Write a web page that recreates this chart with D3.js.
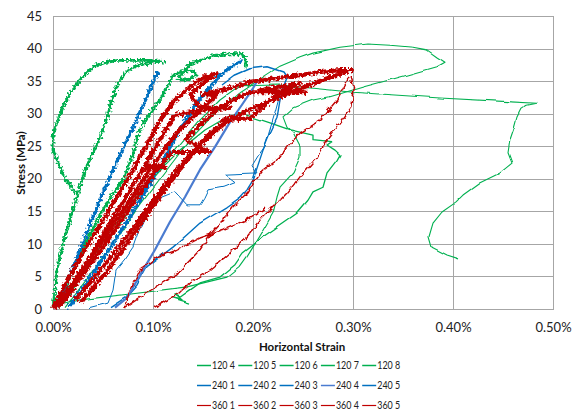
<!DOCTYPE html>
<html>
<head>
<meta charset="utf-8">
<script src="https://cdn.jsdelivr.net/npm/d3@7"></script>
<style>
body { margin: 0; background: #fff; }
svg { display: block; font-family: Lato, "Open Sans", sans-serif; }
</style>
</head>
<body>
<svg id="chart" width="576" height="411"></svg>
<script>
// axis ticks
const xTicks = [0, 0.1, 0.2, 0.3, 0.4, 0.5]          // horizontal strain, %
const yTicks = [0, 5, 10, 15, 20, 25, 30, 35, 40, 45] // stress, MPa

const names = ["120 4", "120 5", "120 6", "120 7", "120 8",
               "240 1", "240 2", "240 3", "240 4", "240 5",
               "360 1", "360 2", "360 3", "360 4", "360 5"]

// [strain %, stress MPa]
const s120_4 = [[0.000,0.2],[0.002,2.9],[0.004,6.0],[0.010,10.1],[0.017,13.7],[0.024,17.2],[0.031,20.9],[0.039,23.7],[0.047,26.3],[0.053,29.0],[0.058,31.6],[0.064,34.4],[0.074,36.6],[0.087,37.5],[0.107,38.1],[0.111,37.9],
  [0.097,38.2],[0.080,38.2],[0.064,38.2],[0.050,37.8],[0.040,37.2],[0.027,35.2],[0.017,33.2],[0.010,31.0],[0.004,28.7],[0.000,26.7],[0.000,24.4],[0.005,22.6],[0.012,20.1],[0.019,18.6],[0.025,17.5]]
const s120_5 = [[0.005,0.2],[0.012,2.9],[0.022,6.8],[0.034,10.6],[0.047,14.4],[0.059,17.5],[0.071,20.1],[0.079,23.3],[0.085,26.7],[0.092,29.0],[0.100,30.6],[0.109,32.6],[0.115,34.4],[0.120,35.8],[0.127,36.4],[0.139,36.7],[0.144,35.9],[0.135,35.2],[0.125,35.2],[0.132,36.7],[0.137,37.6],[0.160,38.9],[0.177,39.2],[0.189,39.2],[0.193,38.2],[0.192,37.0]]
const s120_6 = [[0.007,0.2],[0.027,4.5],[0.047,8.8],[0.072,14.1],[0.097,19.5],[0.122,24.4],[0.147,29.0],[0.167,32.1],[0.187,34.3],[0.227,34.4],[0.300,33.3],[0.387,32.4],[0.484,31.6],[0.474,31.3],[0.468,30.7],[0.464,29.5],[0.461,27.8],[0.457,26.0],[0.455,24.0],[0.459,22.4],[0.447,20.9],[0.427,19.4],[0.410,17.5],[0.402,16.3],[0.389,14.9],[0.380,13.2],[0.376,11.1],[0.379,9.5],[0.394,8.3],[0.406,7.7]]
const s120_7 = [[0.012,0.2],[0.037,5.2],[0.062,10.6],[0.087,16.0],[0.112,21.0],[0.137,26.0],[0.162,30.1],[0.187,33.3],[0.209,35.5],[0.227,37.3],[0.247,38.6],[0.260,39.3],[0.287,40.2],[0.314,40.7],[0.337,40.5],[0.360,40.2],[0.374,39.8],[0.384,38.7],[0.392,37.9],[0.384,37.2],[0.354,35.9],[0.310,34.1],[0.277,32.6],[0.260,32.1],[0.240,30.9],[0.230,29.5],[0.234,27.9],[0.240,27.0],[0.247,24.9],[0.247,23.3],[0.240,20.9],[0.227,18.7],[0.224,17.2],[0.220,14.7],[0.210,12.1],[0.200,9.5],[0.194,8.0],[0.187,6.5],[0.174,4.9],[0.134,3.4],[0.077,2.3],[0.027,1.4],[0.007,0.8]]
const s120_8 = [[0.004,0.2],[0.027,5.2],[0.052,10.6],[0.077,16.0],[0.102,20.6],[0.127,24.4],[0.152,27.5],[0.172,29.3],[0.187,30.1],[0.217,28.6],[0.237,27.5],[0.260,26.7],[0.260,26.0],[0.279,25.7],[0.274,25.2],[0.282,24.4],[0.287,23.7],[0.284,22.9],[0.274,20.9],[0.270,18.7],[0.260,18.0],[0.255,16.7],[0.244,14.7],[0.230,13.2],[0.210,11.1],[0.200,9.8],[0.190,8.6],[0.182,6.8],[0.167,4.9],[0.147,4.0],[0.137,2.9],[0.127,1.8],[0.122,2.2],[0.129,1.4],[0.120,1.7],[0.137,0.9]]
const s240_1 = [[0.004,0.2],[0.009,2.2],[0.017,5.2],[0.027,9.1],[0.042,14.9],[0.057,20.3],[0.069,24.4],[0.079,27.5],[0.087,30.3],[0.094,32.6],[0.099,34.4],[0.103,35.8],[0.106,36.4]]
const s240_2 = [[0.015,0.2],[0.032,3.7],[0.052,8.3],[0.072,12.9],[0.092,18.0],[0.112,23.3],[0.127,27.5],[0.142,31.3],[0.157,34.1],[0.169,36.2],[0.179,37.3],[0.189,38.2]]
const s240_3 = [[0.057,0.2],[0.072,1.7],[0.084,3.7],[0.094,6.5],[0.107,8.0],[0.120,9.5],[0.134,11.4],[0.147,13.2],[0.160,14.4],[0.174,15.7],[0.187,17.1],[0.194,18.3],[0.200,19.8],[0.205,22.1],[0.210,24.4],[0.217,27.0],[0.224,29.3],[0.227,32.1],[0.231,34.4],[0.234,35.5],[0.230,36.4],[0.214,37.2],[0.197,36.9],[0.182,35.9],[0.169,34.4]]
const s240_4 = [[0.062,0.2],[0.074,1.7],[0.087,5.2],[0.102,9.1],[0.117,13.4],[0.132,17.2],[0.147,21.4],[0.162,24.9],[0.177,28.7],[0.190,31.6],[0.200,33.9],[0.205,35.2]]
const s240_5 = [[0.037,0.2],[0.055,0.9],[0.060,2.9],[0.063,6.0],[0.072,7.7],[0.080,9.5],[0.085,11.7],[0.092,14.0],[0.097,16.0],[0.109,17.2],[0.122,18.0],[0.134,16.0],[0.147,16.0],[0.151,17.0],[0.155,18.3],[0.170,18.7],[0.182,19.4],[0.171,20.7],[0.204,20.9],[0.199,22.0],[0.205,23.5],[0.212,25.0],[0.217,27.6],[0.222,30.1],[0.226,32.4],[0.230,34.3]]
const s360_1 = [[0.002,0.2],[0.015,2.9],[0.032,6.8],[0.050,10.6],[0.067,14.4],[0.084,18.3],[0.097,21.4],[0.112,24.7],[0.127,27.5],[0.147,30.6],[0.164,32.9],[0.150,33.0],[0.182,34.1],[0.197,34.9],[0.217,35.3],[0.230,35.6],[0.247,35.9],[0.267,36.4],[0.287,36.7],[0.299,36.7],
  [0.270,35.2],[0.240,33.4],[0.215,31.8],[0.190,30.2],[0.170,28.3],[0.150,25.6],[0.132,22.5],[0.115,19.0],[0.100,15.8],[0.085,12.5],[0.070,9.2],[0.055,6.0],[0.040,3.2],[0.028,1.0]]
const s360_2 = [[0.000,0.2],[0.007,2.2],[0.019,5.7],[0.032,9.1],[0.047,12.9],[0.062,16.7],[0.077,20.6],[0.092,24.7],[0.107,29.0],[0.122,32.1],[0.137,34.1],[0.150,35.5],[0.164,36.2],
  [0.152,34.9],[0.137,32.9],[0.147,30.9],[0.177,30.9],[0.150,30.6],[0.122,29.8],[0.107,26.0],[0.092,22.1],[0.112,21.8],[0.090,21.5],[0.077,18.3],[0.062,14.4],[0.047,10.6],[0.035,7.2],[0.022,3.7],[0.012,1.4]]
const s360_3 = [[0.005,0.2],[0.019,2.9],[0.037,6.8],[0.055,10.6],[0.072,14.4],[0.089,18.3],[0.105,21.7],[0.119,24.1],[0.157,24.1],[0.132,26.0],[0.147,28.3],[0.164,30.6],[0.180,32.1],[0.197,33.3],[0.252,33.3],[0.207,33.6],[0.217,33.9],[0.237,34.4],[0.247,34.7],
  [0.227,33.3],[0.197,29.3],[0.169,29.0],[0.179,29.5],[0.157,27.0],[0.137,23.7],[0.117,20.1],[0.097,16.0],[0.077,11.8],[0.057,7.8],[0.037,4.0],[0.022,1.4]]
const s360_4 = [[0.295,35.5],[0.292,34.4],[0.284,32.1],[0.267,29.0],[0.247,27.0],[0.234,24.9],[0.227,23.3],[0.210,21.4],[0.200,19.4],[0.194,17.8],[0.180,15.7],[0.170,13.7],[0.157,11.4],[0.147,9.1],[0.124,5.4],[0.097,2.8],[0.072,0.2],
  [0.074,1.8],[0.087,6.0],[0.104,8.0],[0.124,9.1],[0.147,10.9],[0.170,12.1],[0.194,13.7],[0.212,15.5]]
const s360_5 = [[0.102,0.2],[0.127,2.6],[0.140,4.3],[0.157,6.0],[0.177,8.6],[0.194,11.1],[0.207,13.7],[0.217,15.2],[0.227,16.7],[0.234,17.8],[0.247,20.3],[0.264,23.3],[0.274,26.0],[0.287,28.6],[0.299,31.1],[0.301,33.8],[0.297,35.6]]

const seriesData = [s120_4, s120_5, s120_6, s120_7, s120_8,
                    s240_1, s240_2, s240_3, s240_4, s240_5,
                    s360_1, s360_2, s360_3, s360_4, s360_5]

const green = "#00b050", blue = "#0070c0", lightBlue = "#4a7bd0", red = "#c00000"
const styles = [
  {c: green, w: 2.8, f: "rough"}, {c: green, w: 2.8, f: "rough"}, {c: green, w: 1.1, f: "wave"},
  {c: green, w: 1.1, f: "wave"}, {c: green, w: 1.3, f: "wave"},
  {c: blue, w: 3.2, f: "rough"}, {c: blue, w: 3.4, f: "rough"}, {c: blue, w: 1.4, f: "wave"},
  {c: lightBlue, w: 2.2, f: null}, {c: blue, w: 1, f: "wave"},
  {c: red, w: 4.2, f: "rough"}, {c: red, w: 4.2, f: "rough"}, {c: red, w: 4, f: "rough"},
  {c: red, w: 1.4, f: "zig"}, {c: red, w: 1.4, f: "zig"}
]

const width = 576, height = 411
const x = d3.scaleLinear().domain([0, 0.5]).range([53, 553])
const y = d3.scaleLinear().domain([0, 45]).range([309, 16])
const px = v => Math.round(v) + 0.5

const svg = d3.select("#chart")

const defs = svg.append("defs")
const addNoise = (id, freq, scale, seed) => {
    const f = defs.append("filter").attr("id", id)
        .attr("filterUnits", "userSpaceOnUse")
        .attr("x", 0).attr("y", 0).attr("width", width).attr("height", height)
    f.append("feTurbulence").attr("type", "fractalNoise")
        .attr("baseFrequency", freq).attr("numOctaves", 1).attr("seed", seed).attr("result", "n")
    f.append("feDisplacementMap").attr("in", "SourceGraphic").attr("in2", "n")
        .attr("scale", scale).attr("xChannelSelector", "R").attr("yChannelSelector", "G")
}
addNoise("rough", 0.45, 7, 2)
addNoise("zig", 0.2, 6, 7)
addNoise("wave", 0.06, 4, 4)

// grid
svg.append("g")
    .selectAll("line")
    .data(yTicks)
    .join("line")
    .attr("x1", x(0)).attr("x2", x(0.5) + 1)
    .attr("y1", d => px(y(d))).attr("y2", d => px(y(d)))
    .attr("stroke", "#a6a6a6")

svg.append("g")
    .selectAll("line")
    .data(xTicks)
    .join("line")
    .attr("x1", d => px(x(d))).attr("x2", d => px(x(d)))
    .attr("y1", y(45)).attr("y2", y(0) + 1)
    .attr("stroke", "#a6a6a6")

// axes labels
svg.append("g")
    .attr("transform", `translate(42,0)`)
    .call(d3.axisLeft(y).tickValues(yTicks).tickSize(0).tickPadding(0))
    .call(g => g.select(".domain").remove())
    .call(g => g.selectAll("text").attr("font-size", 13).attr("fill", "#222")
        .attr("font-family", "Lato, 'Open Sans', sans-serif"))

svg.append("g")
    .attr("transform", `translate(0,${y(0) + 10})`)
    .call(d3.axisBottom(x).tickValues(xTicks).tickSize(0).tickPadding(4)
        .tickFormat(d => d.toFixed(2) + "%"))
    .call(g => g.select(".domain").remove())
    .call(g => g.selectAll("text").attr("font-size", 13).attr("fill", "#222")
        .attr("font-family", "Lato, 'Open Sans', sans-serif"))

svg.append("text")
    .attr("transform", "translate(25,163) rotate(-90)")
    .attr("text-anchor", "middle")
    .attr("font-size", 11.5).attr("font-weight", "bold").attr("fill", "#111")
    .text("Stress (MPa)")

svg.append("text")
    .attr("x", 302).attr("y", 351)
    .attr("text-anchor", "middle")
    .attr("font-size", 11.5).attr("font-weight", "bold").attr("fill", "#111")
    .text("Horizontal Strain")

// series
const line = d3.line().x(d => x(d[0])).y(d => y(d[1]))

svg.append("g")
    .attr("fill", "none")
    .attr("stroke-linejoin", "round")
    .selectAll("path")
    .data(seriesData)
    .join("path")
    .attr("d", line)
    .attr("stroke", (d, i) => styles[i].c)
    .attr("stroke-width", (d, i) => styles[i].w)
    .attr("filter", (d, i) => styles[i].f ? `url(#${styles[i].f})` : null)

// legend
const legend = svg.append("g")
    .selectAll("g")
    .data(names)
    .join("g")
    .attr("transform", (d, i) => `translate(${197 + (i % 5) * 41.3},${365 + Math.floor(i / 5) * 20})`)

legend.append("line")
    .attr("x1", 0).attr("x2", 14)
    .attr("y1", 0.5).attr("y2", 0.5)
    .attr("stroke", (d, i) => styles[i].c)
    .attr("stroke-width", (d, i) => i >= 10 ? 1.2 : 1.5)

legend.append("text")
    .attr("x", 15).attr("dy", "0.36em")
    .attr("font-size", 10.5).attr("fill", "#222")
    .attr("textLength", 23).attr("lengthAdjust", "spacingAndGlyphs")
    .text(d => d)
</script>
</body>
</html>
